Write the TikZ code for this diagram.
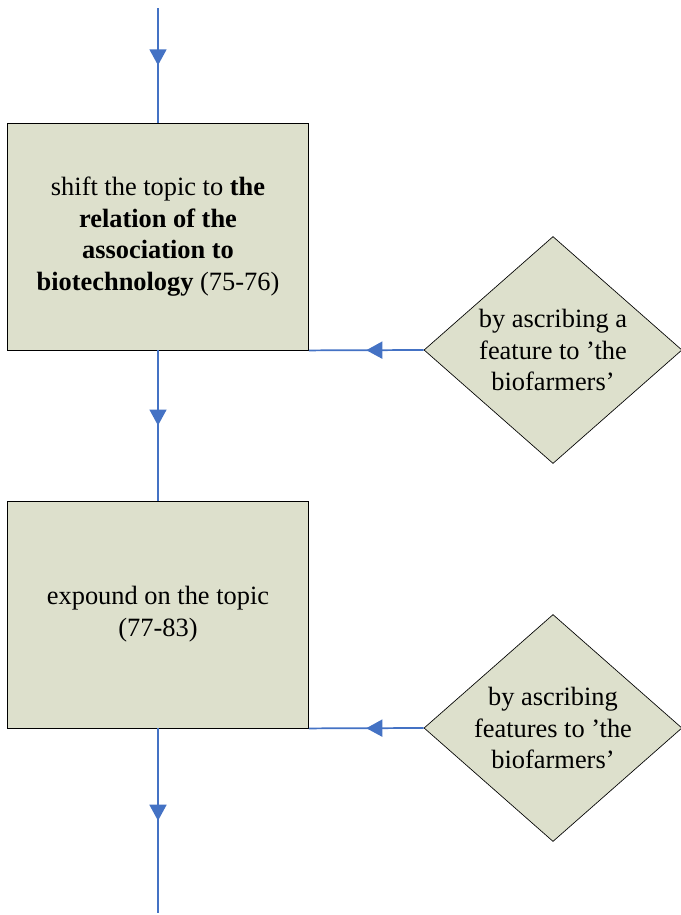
\documentclass[tikz,border=0pt]{standalone}
\usepackage{fontspec}
\setmainfont{Liberation Serif}
\usepackage{tikz}
\usetikzlibrary{positioning}
\usetikzlibrary{shapes.geometric}
\usetikzlibrary{arrows.meta}
\usetikzlibrary{decorations.markings}
\definecolor{boxfill}{RGB}{221,224,204}
\definecolor{flowblue}{RGB}{68,114,196}

\begin{document}
\begin{tikzpicture}[on grid,font=\fontsize{19.8}{23.8}\selectfont]
			\tikzset{flow/.style={draw=flowblue,line width=1.3pt,decoration={markings,mark=at position .5 with {\arrow{Triangle[width=12.75pt,length=12pt]}}},postaction={decorate},color=flowblue}}
			\tikzset{stage/.style={rectangle,draw=black,line width=0.6pt,fill=boxfill,minimum width=225.75pt,minimum height=170.25pt,align=center,inner sep=0pt}}
			\tikzset{means/.style={diamond,draw=black,line width=0.5pt,fill=boxfill,aspect=1.137,minimum width=193.5pt,minimum height=170.25pt,align=center,inner sep=0pt}}
			\useasboundingbox (0,0) rectangle (510.75pt,-686.25pt);
			% Place Nodes
			\node[stage] (S1) at (118.5pt,-177.375pt) {shift the topic to \textbf{the}\\ \textbf{relation of the}\\ \textbf{association to}\\ \textbf{biotechnology} (75-76)};
			\node[stage] (S2) [below=283.5pt of S1] {expound on the topic\\ (77-83)};
			\node[means] (M1) [below right=85.125pt and 296.25pt of S1] {by ascribing a\\ feature to ’the\\ biofarmers’};
			\node[means] (M2) [below right=85.125pt and 296.25pt of S2] {by ascribing\\ features to ’the\\ biofarmers’};
			\coordinate[above=171.375pt of S1] (IN);
			\coordinate[below=223.875pt of S2] (OUT);
			% Draw flow paths
			\draw[flow] (IN) -- (S1);
			\draw[flow] (S1) -- (S2);
			\draw[flow] (S2) -- (OUT);
			\draw[flow] (M1.west) -- (S1.south east);
			\draw[flow] (M2.west) -- (S2.south east);
\end{tikzpicture}
\end{document}
